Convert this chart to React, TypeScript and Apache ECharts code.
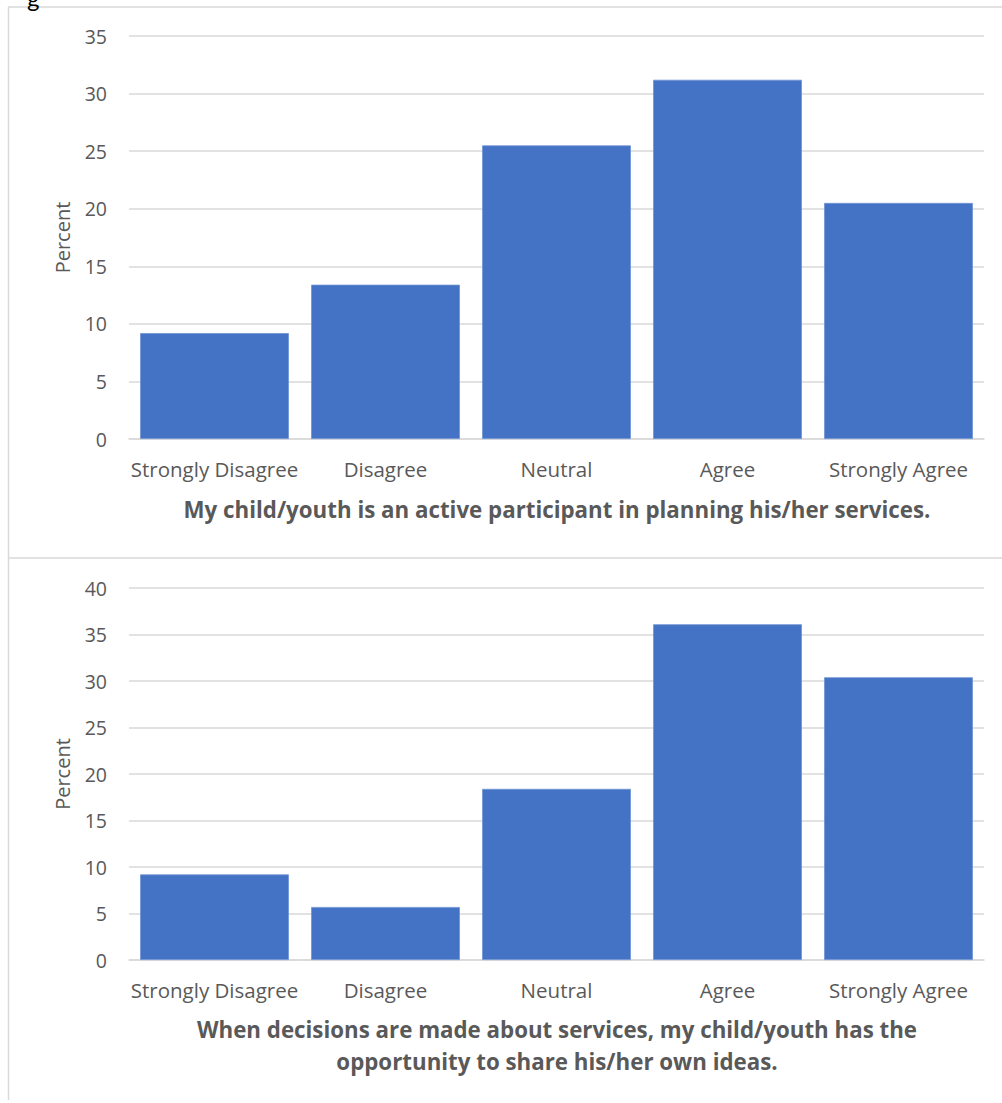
import React, { useEffect, useRef } from "react";
import * as echarts from "echarts";

const categories = ["Strongly Disagree", "Disagree", "Neutral", "Agree", "Strongly Agree"];
const valuesTop = [9.2, 13.4, 25.5, 31.2, 20.5];
const valuesBottom = [9.2, 5.7, 18.4, 36.1, 30.4];
const titleTop = "My child/youth is an active participant in planning his/her services.";
const titleBottom = "When decisions are made about services, my child/youth has the\nopportunity to share his/her own ideas.";
const yName = "Percent";

const FONT = "Open Sans";
const TXT = "#595959";
const GRID = "#D9D9D9";
const BAR = "#4472C4";

export default function App() {
  const ref = useRef<HTMLDivElement>(null);
  useEffect(() => {
    const chart = echarts.init(ref.current!, null, { renderer: "svg" });
    const yAxisBase = (max: number) => ({
      type: "value",
      min: 0,
      max,
      interval: 5,
      name: yName,
      nameLocation: "middle",
      nameGap: 57,
      nameRotate: 90,
      nameTextStyle: { color: TXT, fontSize: 20, fontFamily: FONT },
      axisLine: { show: false },
      axisTick: { show: false },
      axisLabel: { color: TXT, fontSize: 19.5, fontFamily: FONT, margin: 22 },
      splitLine: { lineStyle: { color: GRID, width: 1.5 } },
    });
    const xAxisBase = (gi: number) => ({
      type: "category",
      gridIndex: gi,
      data: categories,
      axisLine: { lineStyle: { color: GRID, width: 1.5 } },
      axisTick: { show: false },
      axisLabel: { color: TXT, fontSize: 20.5, fontFamily: FONT, margin: 19, interval: 0 },
    });
    chart.setOption({
      animation: false,
      backgroundColor: "#ffffff",
      grid: [
        { left: 129, right: 18, top: 36, height: 403 },
        { left: 129, right: 18, top: 588, height: 372 },
      ],
      xAxis: [xAxisBase(0), xAxisBase(1)],
      yAxis: [
        { ...yAxisBase(35), gridIndex: 0 },
        { ...yAxisBase(40), gridIndex: 1 },
      ],
      series: [
        {
          type: "bar",
          xAxisIndex: 0,
          yAxisIndex: 0,
          data: valuesTop,
          barCategoryGap: "13%",
          itemStyle: { color: BAR, borderColor: "#6f93d3", borderWidth: 0.8 },
        },
        {
          type: "bar",
          xAxisIndex: 1,
          yAxisIndex: 1,
          data: valuesBottom,
          barCategoryGap: "13%",
          itemStyle: { color: BAR, borderColor: "#6f93d3", borderWidth: 0.8 },
        },
      ],
      graphic: [
        { type: "line", shape: { x1: 8.5, y1: 7, x2: 8.5, y2: 1100 }, style: { stroke: GRID, lineWidth: 1.5 } },
        { type: "line", shape: { x1: 8, y1: 7, x2: 1002, y2: 7 }, style: { stroke: GRID, lineWidth: 1.5 } },
        { type: "line", shape: { x1: 8, y1: 558, x2: 1002, y2: 558 }, style: { stroke: GRID, lineWidth: 1.5 } },
        {
          type: "text",
          x: 27,
          y: -15,
          style: { text: "g", fontSize: 24, fontFamily: "Lato", fill: "#000" },
        },
        {
          type: "text",
          x: 557,
          y: 509,
          style: {
            text: titleTop,
            fontSize: 22.3,
            fontWeight: "bold",
            fontFamily: FONT,
            fill: TXT,
            align: "center",
            verticalAlign: "middle",
          },
        },
        {
          type: "text",
          x: 557,
          y: 1045,
          style: {
            text: titleBottom,
            fontSize: 22.3,
            fontWeight: "bold",
            fontFamily: FONT,
            fill: TXT,
            align: "center",
            verticalAlign: "middle",
            lineHeight: 32,
          },
        },
      ],
    });
    return () => chart.dispose();
  }, []);
  return (
    <div
      ref={ref}
      style={{ position: "absolute", left: 0, top: 0, width: 1002, height: 1103 }}
    />
  );
}
